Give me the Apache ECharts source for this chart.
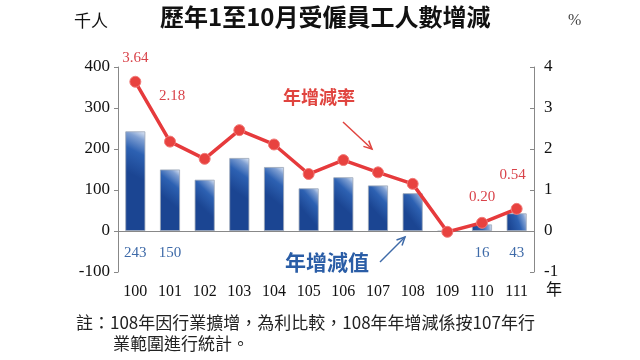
<!DOCTYPE html>
<html><head><meta charset="utf-8">
<script src="https://cdn.jsdelivr.net/npm/echarts@6/dist/echarts.min.js"></script>
<style>html,body{margin:0;padding:0;background:#fff}#c{width:640px;height:360px}</style>
</head><body><div id="c"></div>
<script>
const years = ['100','101','102','103','104','105','106','107','108','109','110','111'];
const changeValues = [243, 150, 125, 178, 156, 104, 131, 111, 92, -1, 16, 43];
const rateValues = [3.64, 2.18, 1.76, 2.46, 2.11, 1.39, 1.73, 1.43, 1.15, -0.02, 0.20, 0.54];
const leftTicks = [-100, 0, 100, 200, 300, 400];
const rightTicks = [-1, 0, 1, 2, 3, 4];
const barLabelIdx = [0, 1, 10, 11];
const rateLabelIdx = [0, 1, 10, 11];

const serif = '"Liberation Serif","DejaVu Serif",serif';
const rateOffsets = {0:[0,-4], 1:[2,-26], 10:[0,-6], 11:[-4,-14]};

const chart = echarts.init(document.getElementById('c'));
const barData = changeValues.map((v,i)=>({
  value:v,
  label:{show: barLabelIdx.includes(i)}
}));
const lineData = rateValues.map((v,i)=>({
  value:v,
  label: rateLabelIdx.includes(i) ? {show:true, offset: rateOffsets[i], formatter: v.toFixed(2)} : {show:false}
}));

function arrow(x1,y1,x2,y2,color){
  const a=Math.atan2(y2-y1,x2-x1), L=9, s=0.45;
  return [
    {type:'line',shape:{x1,y1,x2,y2},style:{stroke:color,lineWidth:1.5}},
    {type:'polyline',shape:{points:[[x2-L*Math.cos(a-s),y2-L*Math.sin(a-s)],[x2,y2],[x2-L*Math.cos(a+s),y2-L*Math.sin(a+s)]]},style:{stroke:color,lineWidth:1.5,fill:null}}
  ];
}

chart.setOption({
  animation:false,
  grid:{left:118,right:106,top:67,bottom:88},
  xAxis:{type:'category',data:years,
    axisLine:{onZero:false,show:false},
    axisTick:{show:false},
    axisLabel:{fontFamily:serif,fontSize:16,color:'#111',margin:12}
  },
  yAxis:[
    {type:'value',min:-100,max:400,interval:100,
     axisLine:{show:true,lineStyle:{color:'#888'}},
     axisTick:{show:true,length:4,lineStyle:{color:'#888'}},
     splitLine:{show:false},
     axisLabel:{fontFamily:serif,fontSize:17,color:'#111',margin:8}},
    {type:'value',min:-1,max:4,interval:1,position:'right',
     axisLine:{show:true,lineStyle:{color:'#888'}},
     axisTick:{show:true,inside:true,length:4,lineStyle:{color:'#888'}},
     splitLine:{show:false},
     axisLabel:{fontFamily:serif,fontSize:17,color:'#111',margin:10}}
  ],
  series:[
    {type:'bar',data:barData,barWidth:20,
     itemStyle:{borderColor:'#9aa6b8',borderWidth:0.8,
       color:new echarts.graphic.LinearGradient(0,0.4,1,0,[
         {offset:0,color:'#1b4592'},{offset:0.5,color:'#2d61b2'},{offset:0.8,color:'#7f9fd2'},{offset:1,color:'#e6edf8'}])},
     label:{position:'bottom',distance:15,fontFamily:serif,fontSize:15,color:'#3e6aa8'},
     markLine:{silent:true,symbol:'none',label:{show:false},lineStyle:{color:'#888',type:'solid',width:1},data:[{yAxis:0}]}
    },
    {type:'line',yAxisIndex:1,data:lineData,
     lineStyle:{color:'#e63a3c',width:3.5},
     symbol:'circle',symbolSize:11,
     itemStyle:{color:'#e8423f',borderColor:'#f07a78',borderWidth:1},
     label:{position:'top',distance:6,fontFamily:serif,fontSize:15,color:'#d9434a'},
     z:5}
  ],
  graphic:[
    {type:'text',left:160,top:5,style:{text:'歷年1至10月受僱員工人數增減',font:'bold 24px "Noto Sans CJK TC"',fill:'#111'}},
    {type:'text',left:74,top:12,style:{text:'千人',font:'17px "Noto Sans CJK TC"',fill:'#111'}},
    {type:'text',left:568,top:13,style:{text:'%',font:'16px "Liberation Serif"',fill:'#444'}},
    {type:'text',left:546,top:281,style:{text:'年',font:'16px "Noto Sans CJK TC"',fill:'#111'}},
    {type:'text',left:283,top:88,style:{text:'年增減率',font:'bold 18px "Noto Sans CJK TC"',fill:'#e0443f'}},
    {type:'text',left:285,top:252,style:{text:'年增減值',font:'bold 21px "Noto Sans CJK TC"',fill:'#2a5da6'}},
    ...arrow(343,122,372,149,'#e0443f'),
    ...arrow(380,262,405,237,'#3e6aa8'),
    {type:'text',left:76,top:314,style:{text:'註：108年因行業擴增，為利比較，108年年增減係按107年行',font:'17px "Noto Sans CJK TC"',fill:'#222'}},
    {type:'text',left:113,top:335,style:{text:'業範圍進行統計。',font:'17px "Noto Sans CJK TC"',fill:'#222'}}
  ]
});
</script></body></html>
